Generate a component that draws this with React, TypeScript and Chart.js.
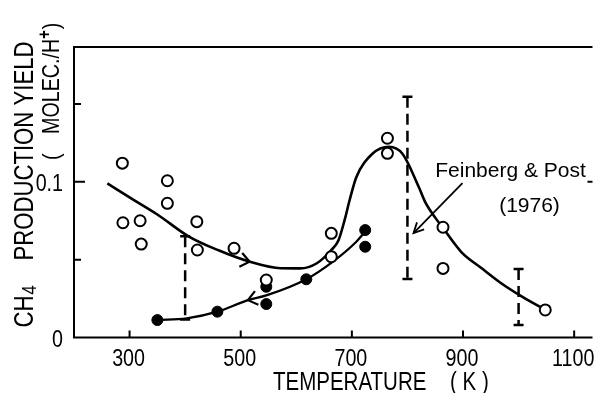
import React, { useEffect, useRef } from 'react';
import { Chart, registerables } from 'chart.js';

Chart.register(...registerables);

// ---- data ----
const openT = [287, 368, 368, 288, 319, 321, 421, 422, 488, 546, 663, 663, 764, 764, 864, 864, 1048];
const openV = [0.112, 0.1007, 0.0862, 0.0737, 0.075, 0.060, 0.0744, 0.0562, 0.0573, 0.0369, 0.0669, 0.0519, 0.128, 0.1183, 0.0708, 0.0444, 0.0177];

const filledT = [350, 458, 546, 546, 618, 724, 724];
const filledV = [0.0112, 0.0166, 0.0326, 0.0215, 0.0374, 0.069, 0.0583];

const heatingT = [260, 300, 350, 406, 460, 516, 572, 607, 637, 663, 676, 687, 696, 708, 737, 767, 791, 820, 832, 850, 864, 897, 933, 968, 1004, 1039];
const heatingV = [0.099, 0.090, 0.079, 0.065, 0.056, 0.0487, 0.0445, 0.0444, 0.0477, 0.0562, 0.0625, 0.0755, 0.0883, 0.103, 0.118, 0.1225, 0.118, 0.097, 0.087, 0.077, 0.0703, 0.0549, 0.0446, 0.035, 0.0267, 0.0196];

const coolingT = [350, 403, 458, 513, 546, 618, 666, 708, 724];
const coolingV = [0.0112, 0.0123, 0.0166, 0.024, 0.027, 0.0374, 0.0487, 0.0615, 0.068];

// error bars (Feinberg & Post 1976)
const errT = [400, 800, 1000];
const errLo = [0.0115, 0.0376, 0.008];
const errHi = [0.065, 0.1546, 0.044];

// direction chevrons on curves
const chevronT = [516, 513];
const chevronCurve = ['heating', 'cooling'];
const chevronDir = [1, -1];

// annotation
const annotText = ['Feinberg & Post', '(1976)'];
const annotTextT = [850, 965];
const annotTextV = [0.1031, 0.0806];
const annotArrowFrom = [899, 0.0992];
const annotArrowTo = [811, 0.0671];

const xTicks = [300, 500, 700, 900, 1100];
const xTickLabels = ['300', '500', '700', '900', '1100'];
const yTicks = [0, 0.05, 0.1, 0.15];
const yTickLabels = ['0', '', '0.1', ''];
const yMajor = [true, false, true, false];

const X_MIN = 200;
const X_MAX = 1133;
const Y_MIN = 0;
const Y_MAX = 0.1866;

const SANS = '"Liberation Sans", Arial, sans-serif';
const CONDENSE = 0.82;

function interp(ts: number[], vs: number[], t: number) {
  for (let i = 0; i < ts.length - 1; i++) {
    if (t >= ts[i] && t <= ts[i + 1]) {
      const f = (t - ts[i]) / (ts[i + 1] - ts[i]);
      return vs[i] + f * (vs[i + 1] - vs[i]);
    }
  }
  return vs[vs.length - 1];
}

// draw condensed text; returns advance width
function cText(
  ctx: CanvasRenderingContext2D,
  text: string,
  x: number,
  y: number,
  size: number,
  align: CanvasTextAlign = 'left',
  weight = ''
) {
  ctx.save();
  ctx.font = `${weight} ${size}px ${SANS}`;
  const w = ctx.measureText(text).width * CONDENSE;
  ctx.translate(x, y);
  ctx.scale(CONDENSE, 1);
  ctx.textAlign = align;
  ctx.textBaseline = 'alphabetic';
  ctx.fillText(text, 0, 0);
  ctx.restore();
  return w;
}

const decorPlugin = {
  id: 'decor',
  afterDatasetsDraw(chart: any) {
    const ctx = chart.ctx as CanvasRenderingContext2D;
    const { left, right, top, bottom } = chart.chartArea;
    const xs = chart.scales.x;
    const ys = chart.scales.y;
    const px = (t: number) => xs.getPixelForValue(t);
    const py = (v: number) => ys.getPixelForValue(v);
    ctx.save();
    ctx.strokeStyle = '#000';
    ctx.fillStyle = '#000';
    ctx.lineCap = 'butt';

    // frame
    ctx.lineWidth = 2;
    ctx.beginPath();
    ctx.moveTo(left, top);
    ctx.lineTo(right, top);
    ctx.moveTo(left, top - 1);
    ctx.lineTo(left, bottom + 1);
    ctx.moveTo(left - 1, bottom);
    ctx.lineTo(right, bottom);
    ctx.stroke();

    // inward ticks
    ctx.beginPath();
    xTicks.forEach((t) => {
      const x = px(t);
      ctx.moveTo(x, bottom);
      ctx.lineTo(x, bottom - 7);
    });
    yTicks.forEach((v, i) => {
      if (v === 0) return;
      const y = py(v);
      const len = yMajor[i] ? 11 : 7;
      ctx.moveTo(left, y);
      ctx.lineTo(left + len, y);
      if (yMajor[i]) {
        ctx.moveTo(right, y);
        ctx.lineTo(right - 5, y);
      }
    });
    ctx.stroke();

    // tick labels
    xTicks.forEach((t, i) => {
      cText(ctx, xTickLabels[i], px(t) - 1, bottom + 28, 24, 'center');
    });
    yTicks.forEach((v, i) => {
      if (!yTickLabels[i]) return;
      cText(ctx, yTickLabels[i], left - 11, py(v) + 9, 24, 'right');
    });

    // error bars
    errT.forEach((t, i) => {
      const x = px(t);
      const y1 = py(errHi[i]);
      const y2 = py(errLo[i]);
      ctx.lineWidth = 2.5;
      ctx.setLineDash([11, 6]);
      ctx.beginPath();
      ctx.moveTo(x, y1);
      ctx.lineTo(x, y2);
      ctx.stroke();
      ctx.setLineDash([]);
      ctx.beginPath();
      ctx.moveTo(x - 5, y1);
      ctx.lineTo(x + 5, y1);
      ctx.moveTo(x - 5, y2);
      ctx.lineTo(x + 5, y2);
      ctx.stroke();
    });

    // chevrons
    ctx.lineWidth = 2.2;
    chevronT.forEach((t, i) => {
      const ts = chevronCurve[i] === 'heating' ? heatingT : coolingT;
      const vs = chevronCurve[i] === 'heating' ? heatingV : coolingV;
      const x0 = px(t), y0 = py(interp(ts, vs, t));
      const x1 = px(t + 8), y1 = py(interp(ts, vs, t + 8));
      let dx = (x1 - x0) * chevronDir[i], dy = (y1 - y0) * chevronDir[i];
      const L = Math.hypot(dx, dy);
      dx /= L; dy /= L;
      const nx = -dy, ny = dx;
      ctx.beginPath();
      ctx.moveTo(x0 - 9 * dx + 7 * nx, y0 - 9 * dy + 7 * ny);
      ctx.lineTo(x0, y0);
      ctx.lineTo(x0 - 9 * dx - 7 * nx, y0 - 9 * dy - 7 * ny);
      ctx.stroke();
    });

    // annotation arrow
    {
      const xa = px(annotArrowFrom[0]), ya = py(annotArrowFrom[1]);
      const xb = px(annotArrowTo[0]), yb = py(annotArrowTo[1]);
      ctx.lineWidth = 1.8;
      ctx.beginPath();
      ctx.moveTo(xa, ya);
      ctx.lineTo(xb, yb);
      ctx.stroke();
      let dx = xb - xa, dy = yb - ya;
      const L = Math.hypot(dx, dy);
      dx /= L; dy /= L;
      const nx = -dy, ny = dx;
      ctx.beginPath();
      ctx.moveTo(xb - 10 * dx + 5 * nx, yb - 10 * dy + 5 * ny);
      ctx.lineTo(xb, yb);
      ctx.lineTo(xb - 10 * dx - 5 * nx, yb - 10 * dy - 5 * ny);
      ctx.stroke();
    }

    // annotation text
    ctx.font = `21px ${SANS}`;
    ctx.textAlign = 'left';
    ctx.textBaseline = 'alphabetic';
    annotText.forEach((s, i) => {
      ctx.fillText(s, px(annotTextT[i]), py(annotTextV[i]));
    });

    // x title
    cText(ctx, 'TEMPERATURE', left + 199, bottom + 52, 25);
    cText(ctx, '( K )', left + 376, bottom + 52, 25);

    // y title line 1 (rotated)
    ctx.save();
    ctx.translate(left - 41, bottom - 10);
    ctx.rotate(-Math.PI / 2);
    const wCH = cText(ctx, 'CH', 0, 0, 27);
    cText(ctx, '4', wCH + 1, 3, 20);
    cText(ctx, 'PRODUCTION YIELD', 67, 0, 27);
    ctx.restore();

    // y title line 2 (rotated)
    ctx.save();
    ctx.translate(left - 15, top + 113);
    ctx.rotate(-Math.PI / 2);
    cText(ctx, '(', 0, 0, 24);
    let w = 26 + cText(ctx, 'MOLEC./H', 26, 0, 24);
    w += cText(ctx, '+', w, -9, 18, 'left', 'bold');
    cText(ctx, ')', w + 1, 0, 24);
    ctx.restore();

    ctx.restore();
  },
};

export default function App() {
  const ref = useRef<HTMLCanvasElement | null>(null);

  useEffect(() => {
    document.body.style.margin = '0';
    const canvas = ref.current;
    if (!canvas) return;

    const chart = new Chart(canvas, {
      type: 'line',
      data: {
        datasets: [
          {
            label: 'open',
            data: openT.map((t, i) => ({ x: t, y: openV[i] })),
            showLine: false,
            pointRadius: 5.5,
            pointBorderWidth: 2,
            pointBackgroundColor: '#fff',
            pointBorderColor: '#000',
          },
          {
            label: 'filled',
            data: filledT.map((t, i) => ({ x: t, y: filledV[i] })),
            showLine: false,
            pointRadius: 5.5,
            pointBorderWidth: 1,
            pointBackgroundColor: '#000',
            pointBorderColor: '#000',
          },
          {
            label: 'heating',
            data: heatingT.map((t, i) => ({ x: t, y: heatingV[i] })),
            borderColor: '#000',
            borderWidth: 2.6,
            pointRadius: 0,
            cubicInterpolationMode: 'monotone',
            fill: false,
          },
          {
            label: 'cooling',
            data: coolingT.map((t, i) => ({ x: t, y: coolingV[i] })),
            borderColor: '#000',
            borderWidth: 2.3,
            pointRadius: 0,
            cubicInterpolationMode: 'monotone',
            fill: false,
          },
        ],
      },
      options: {
        animation: false,
        responsive: true,
        maintainAspectRatio: false,
        layout: { padding: { top: 47, right: 0, left: 0, bottom: 0 } },
        plugins: { legend: { display: false }, tooltip: { enabled: false } },
        events: [],
        scales: {
          x: {
            type: 'linear',
            min: X_MIN,
            max: X_MAX,
            grid: { display: false, drawTicks: false },
            border: { display: false },
            ticks: { display: false },
            afterFit: (s: any) => {
              s.height = 55.5;
            },
          },
          y: {
            type: 'linear',
            min: Y_MIN,
            max: Y_MAX,
            grid: { display: false, drawTicks: false },
            border: { display: false },
            ticks: { display: false },
            afterFit: (s: any) => {
              s.width = 74;
            },
          },
        },
      },
      plugins: [decorPlugin],
    } as any);

    return () => chart.destroy();
  }, []);

  return (
    <div style={{ position: 'absolute', left: 0, top: 0, width: 600, height: 393, background: '#fff' }}>
      <canvas ref={ref} />
    </div>
  );
}
